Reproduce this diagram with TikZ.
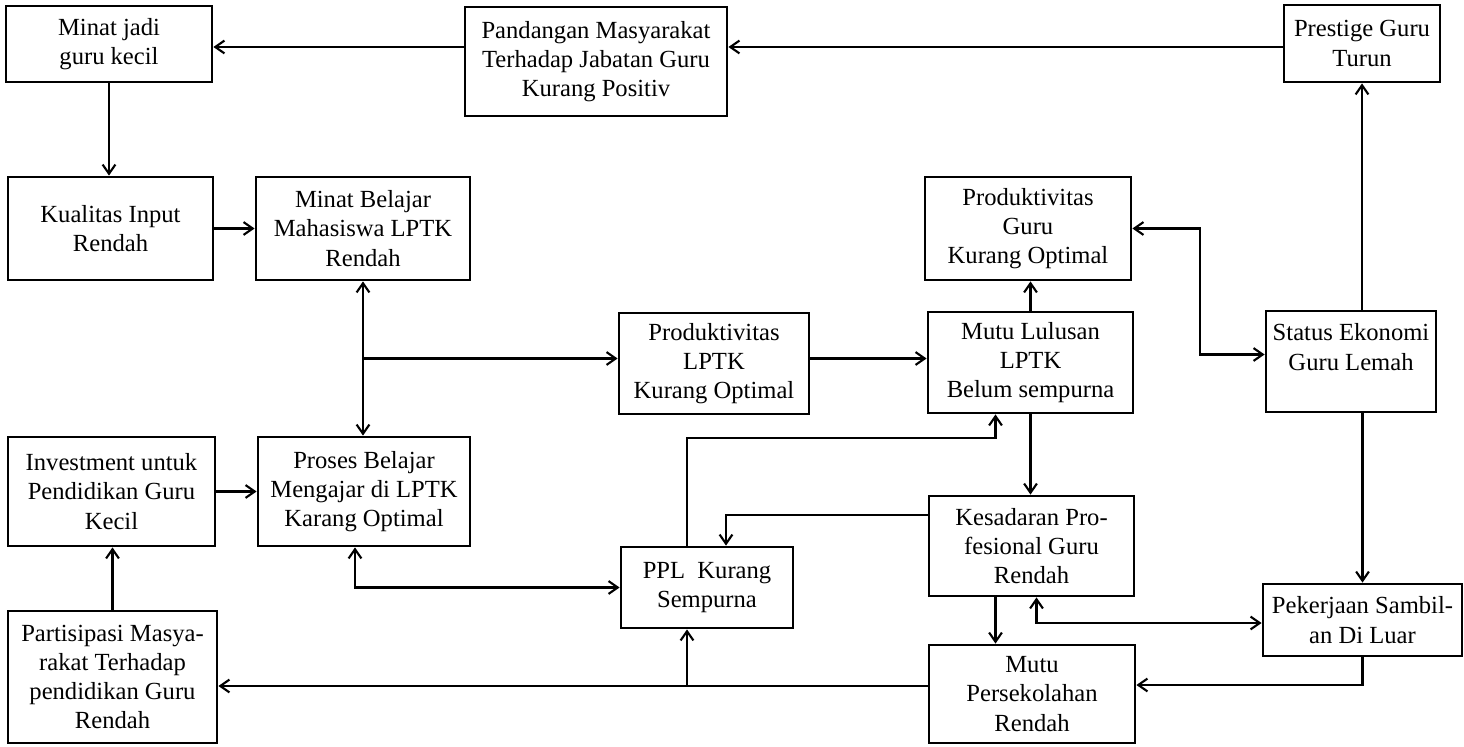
\documentclass[tikz,border=0pt]{standalone}
\usepackage{fontspec}
\setmainfont{Liberation Serif}
\usetikzlibrary{arrows.meta,calc}

\begin{document}
\begin{tikzpicture}[x=0.025cm, y=-0.025cm,
    >={Straight Barb[length=2.3mm,width=3.2mm]},
    box/.style 2 args={draw, line width=2pt, align=center, inner sep=0pt,
        minimum width=#1*0.025cm, minimum height=#2*0.025cm,
        font=\fontsize{17.5}{20.8}\selectfont},
    link/.style={line width=1.5pt}]
    \useasboundingbox (0,0) rectangle (1464,747);

    % boxes
    \node [box={206}{76}] (minatjadi) at (109,44) {Minat jadi\\guru kecil};
    \node [box={262}{109}] (pandangan) at (596,61.5) {Pandangan Masyarakat\\Terhadap Jabatan Guru\\Kurang Positiv};
    \node [box={156}{77}] (prestige) at (1362,43.5) {Prestige Guru\\Turun};
    \node [box={205}{103}] (kualitas) at (110.5,228.5) {Kualitas Input\\Rendah};
    \node [box={214}{103}] (minatbelajar) at (363,228.5) {Minat Belajar\\Mahasiswa LPTK\\Rendah};
    \node [box={206}{103}] (prodguru) at (1028,228.5) {Produktivitas\\Guru\\Kurang Optimal};
    \node [box={190}{101}] (prodlptk) at (714,363.5) {Produktivitas\\LPTK\\Kurang Optimal};
    \node [box={205}{101}] (mutululusan) at (1030.5,362.5) {Mutu Lulusan\\LPTK\\Belum sempurna};
    \node [box={170}{101}] (status) at (1351,361.5) {Status Ekonomi\\Guru Lemah\\~};
    \node [box={207}{109}] (investment) at (111.5,491.5) {Investment untuk\\Pendidikan Guru\\Kecil};
    \node [box={212}{109}] (proses) at (364,491.5) {Proses Belajar\\Mengajar di LPTK\\Karang Optimal};
    \node [box={172}{81}] (ppl) at (707,587.5) {PPL\ \ Kurang\\Sempurna};
    \node [box={205}{100}] (kesadaran) at (1031.5,546) {Kesadaran Pro-\\fesional Guru\\Rendah};
    \node [box={199}{72}] (pekerjaan) at (1362.5,620) {Pekerjaan Sambil-\\an Di Luar};
    \node [box={209}{132}] (partisipasi) at (112.5,677) {Partisipasi Masya-\\rakat Terhadap\\pendidikan Guru\\Rendah};
    \node [box={206}{98}] (mutusekolah) at (1032,694) {Mutu\\Persekolahan\\Rendah};

    \coordinate (topline) at (0,47);
    \coordinate (botline) at (0,686);
    \coordinate (junction) at ($(minatbelajar.south)!0.5!(proses.north)$);
    \coordinate (pplhead) at ($(ppl.north)+(-20,0)$);
    \coordinate (pplfoot) at ($(ppl.south)+(-20,0)$);
    \coordinate (kesfoot) at ($(kesadaran.south)+(-36,0)$);

    % connectors
    \draw [link, ->] (prestige.west |- topline) -- (pandangan.east |- topline);
    \draw [link, ->] (pandangan.west |- topline) -- (minatjadi.east |- topline);
    \draw [link, ->] (minatjadi.south) -- (minatjadi.south |- kualitas.north);
    \draw [link, ->] (kualitas.east) -- (kualitas.east -| minatbelajar.west);
    \draw [link, <->] (minatbelajar.south) -- (minatbelajar.south |- proses.north);
    \draw [link, ->] (junction) -- (junction -| prodlptk.west);
    \draw [link, ->] (junction -| prodlptk.east) -- (junction -| mutululusan.west);
    \draw [link, ->] (mutululusan.north) -- (mutululusan.north |- prodguru.south);
    \draw [link, <->] (prodguru.east) -- ++(68,0) |- ($(status.west)+(0,-7)$);
    \draw [link, ->] (prestige.south |- status.north) -- (prestige.south);
    \draw [link, ->] (pekerjaan.north |- status.south) -- (pekerjaan.north);
    \draw [link, ->] (mutululusan.south) -- (mutululusan.south |- kesadaran.north);
    \draw [link, ->] (pplhead) |- ($(mutululusan.south)+(-35,24)$) -- ($(mutululusan.south)+(-35,0)$);
    \draw [link, ->] ($(kesadaran.west)+(0,-31)$) -| ($(ppl.north)+(19,0)$);
    \draw [link, ->] (kesfoot) -- (kesfoot |- mutusekolah.north);
    \draw [link, <->] ($(kesadaran.south)+(5,0)$) |- ($(pekerjaan.west)+(0,3)$);
    \draw [link, ->] (pekerjaan.south) |- ($(mutusekolah.east)+(0,-9)$);
    \draw [link, ->] (mutusekolah.west |- botline) -- (partisipasi.east |- botline);
    \draw [link, ->] (pplfoot |- botline) -- (pplfoot);
    \draw [link, ->] (partisipasi.north) -- (partisipasi.north |- investment.south);
    \draw [link, ->] (investment.east) -- (investment.east -| proses.west);
    \draw [link, <->] ($(proses.south)+(-9,0)$) |- (ppl.west);
\end{tikzpicture}
\end{document}
